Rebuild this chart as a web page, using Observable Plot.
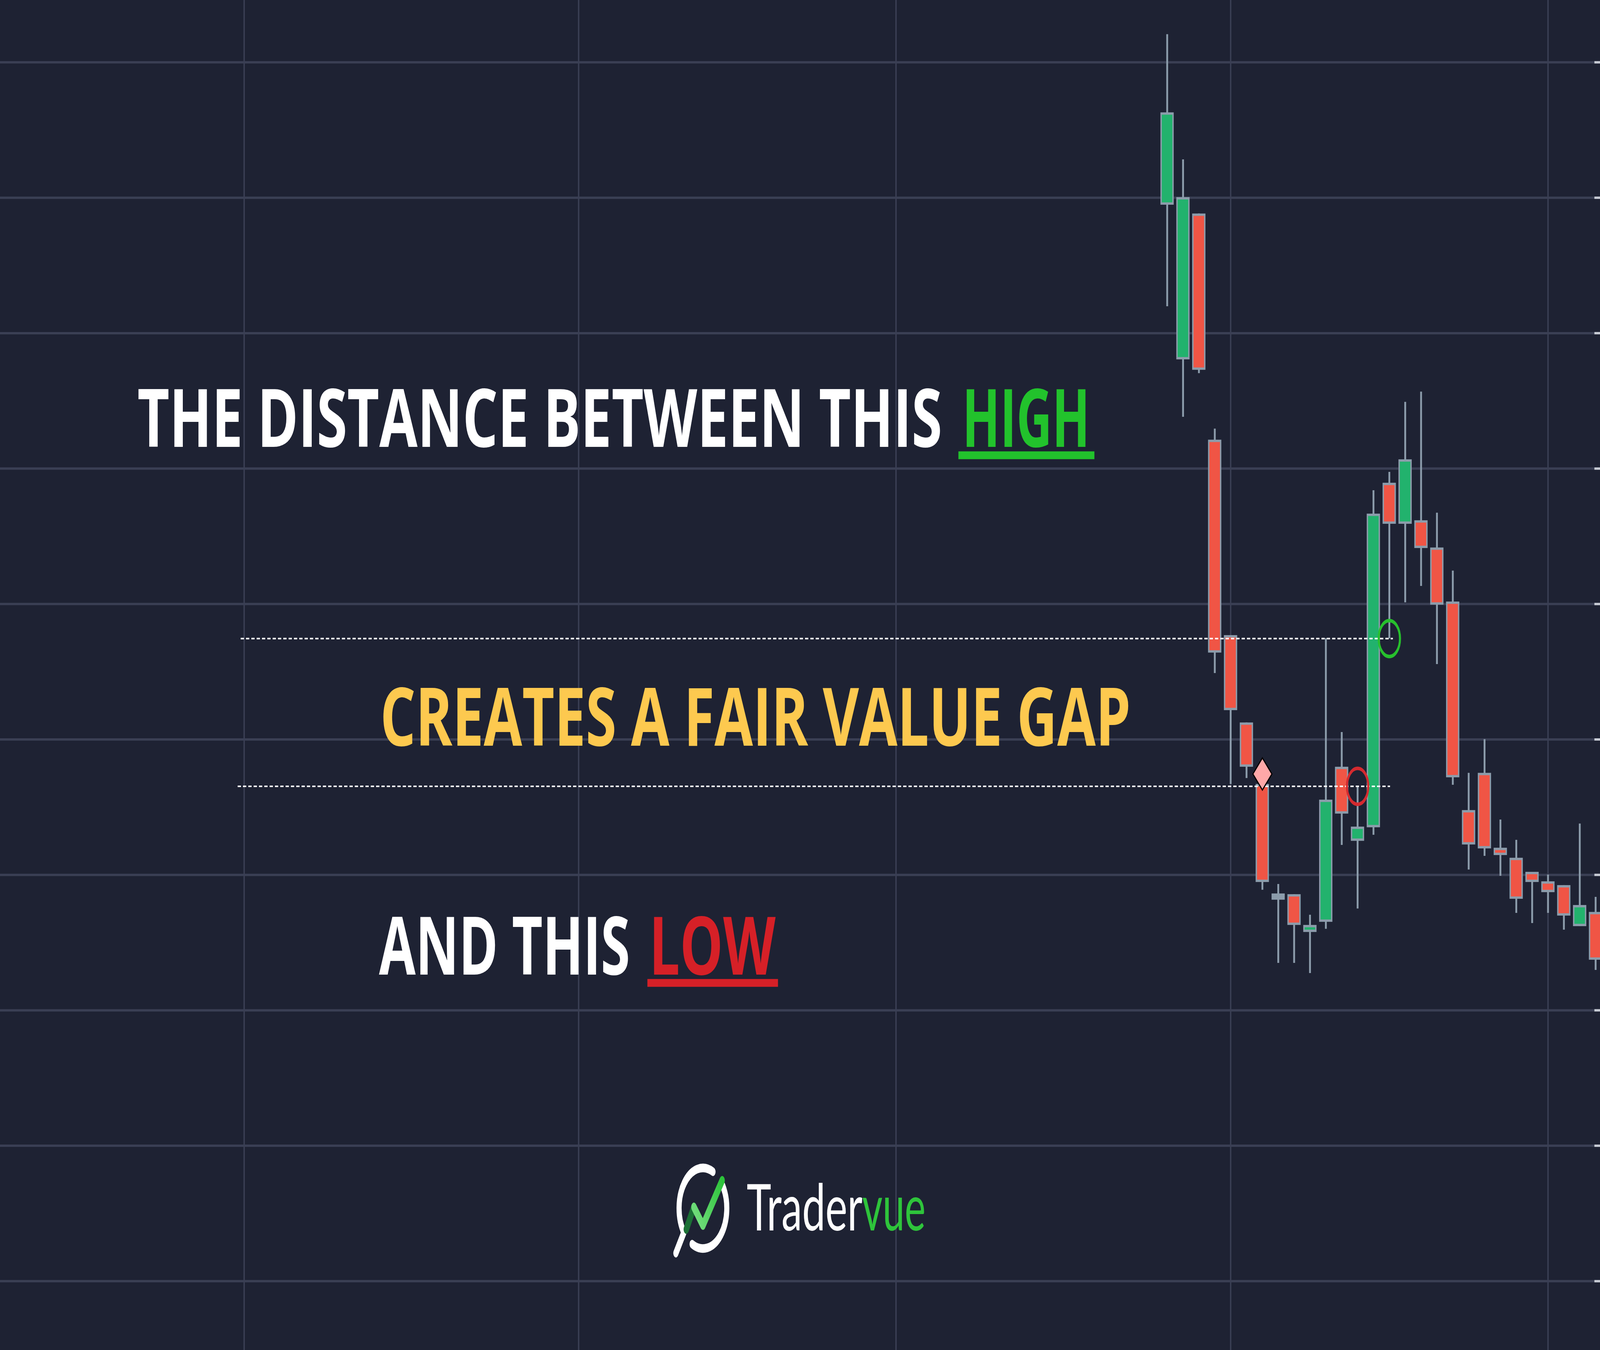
<!DOCTYPE html>
<html>
<head>
<meta charset="utf-8">
<script src="https://cdn.jsdelivr.net/npm/d3@7"></script>
<script src="https://cdn.jsdelivr.net/npm/@observablehq/plot@0.6"></script>
<style>
  html, body { margin: 0; padding: 0; background: #1e2233; width: 100%; height: 100%; overflow: hidden; }
  #chart svg { display: block; overflow: hidden; }
</style>
</head>
<body>
<div id="chart"></div>
<script>
// bar number and OHLC prices
const bar   = [56, 57, 58, 59, 60, 61, 62, 63, 64, 65, 66, 67, 68, 69, 70, 71, 72, 73, 74, 75, 76, 77, 78, 79, 80, 81, 82, 83]
const open  = [89.47, 78.05, 88.82, 72.12, 57.69, 51.24, 46.70, 38.40, 38.56, 35.77, 36.52, 47.97, 42.50, 43.50,
               68.94, 65.91, 66.17, 64.16, 60.17, 44.77, 47.52, 41.99, 41.25, 40.21, 39.51, 39.23, 36.20, 37.25]
const high  = [102.06, 92.82, 88.82, 72.94, 57.69, 51.24, 46.70, 39.31, 38.56, 37.04, 57.46, 50.53, 46.54, 68.39,
               69.74, 74.91, 75.67, 66.73, 62.45, 47.52, 50.01, 44.07, 42.57, 40.21, 40.01, 39.23, 43.78, 38.36]
const low   = [81.97, 73.81, 77.03, 54.89, 46.70, 47.14, 38.89, 33.49, 33.49, 32.74, 36.00, 42.20, 37.50, 42.95,
               57.45, 60.11, 61.32, 55.55, 46.64, 40.38, 41.39, 39.92, 37.18, 36.43, 37.18, 35.94, 36.20, 32.97]
const close = [96.29, 90.03, 77.28, 56.40, 52.15, 47.97, 39.46, 38.40, 36.29, 36.29, 45.54, 44.51, 43.55, 66.66,
               65.91, 70.67, 64.12, 59.94, 47.19, 42.23, 41.94, 41.45, 38.22, 39.46, 38.71, 36.98, 37.76, 33.72]

// grid ticks (time lines and price lines)
const xTicks = [-2.17, 18.91, 38.91, 60, 80]
const yTicks = [10, 20, 30, 40, 50, 60, 70, 80, 90, 100]

// the fair value gap: high of bar 68 and low of bar 70
const gapHighBar = 68
const gapLowBar = 70
const signalBar = 62
const signalPrice = 47.45

const headline = [
  {text: "THE DISTANCE BETWEEN THIS", x1: -8.90, x2: 41.82, y: 71.59, color: "#ffffff"},
  {text: "HIGH", x1: 43.09, x2: 51.13, y: 71.59, color: "#22c22c"},
  {text: "CREATES A FAIR VALUE GAP", x1: 6.40, x2: 53.70, y: 49.55, color: "#fdc94f"},
  {text: "AND THIS", x1: 6.33, x2: 22.15, y: 32.65, color: "#ffffff"},
  {text: "LOW", x1: 23.36, x2: 31.32, y: 32.65, color: "#d62027"}
]
const underlines = [
  {x1: 42.85, x2: 51.42, y: 70.98, color: "#22c22c"},
  {x1: 23.25, x2: 31.48, y: 32.02, color: "#d62027"}
]
const brand = [
  {text: "Trader", x1: 29.50, x2: 36.80, y: 13.73, color: "#ffffff"},
  {text: "vue", x1: 36.78, x2: 40.77, y: 13.73, color: "#2ec43b"}
]
const brandIcon = {x: 26.75, y: 15.37}

const bg = "#1e2233"
const gridColor = "#3a3f54"
const edge = "#8c9cab"
const up = "#22b26d"
const down = "#f05545"

const candles = bar.map((i, k) => ({i, open: open[k], high: high[k], low: low[k], close: close[k]}))
const bodies = candles.filter(d => d.open !== d.close)
const dojis = candles.filter(d => d.open === d.close)
const byBar = i => candles.find(d => d.i === i)

const gapTop = byBar(gapLowBar).low
const gapBottom = byBar(gapHighBar).high
const gapLines = [
  {y: gapTop, x1: -2.38, x2: gapLowBar + 0.23},
  {y: gapBottom, x1: -2.57, x2: gapLowBar + 0.05}
]

const chart = Plot.plot({
  width: 6912,
  height: 3456,
  marginTop: 0,
  marginRight: 0,
  marginBottom: 0,
  marginLeft: 0,
  style: {background: bg},
  x: {domain: [-17.549, 83.283], axis: null},
  y: {domain: [4.903, 104.586], axis: null},
  color: {type: "identity"},
  marks: [
    Plot.ruleX(xTicks, {stroke: gridColor, strokeWidth: 6}),
    Plot.ruleY(yTicks, {stroke: gridColor, strokeWidth: 6}),
    Plot.ruleY(yTicks, {x1: 82.93, x2: 83.283, stroke: "#c8ccd5", strokeWidth: 6}),
    // wicks
    Plot.ruleX(candles, {x: "i", y1: "low", y2: "high", stroke: edge, strokeWidth: 8}),
    // bodies
    Plot.rectY(bodies, {
      x1: d => d.i - 0.375,
      x2: d => d.i + 0.375,
      y1: "open",
      y2: "close",
      insetTop: 3,
      insetBottom: 3,
      fill: d => d.close > d.open ? up : down,
      stroke: edge,
      strokeWidth: 6
    }),
    Plot.ruleY(dojis, {y: "open", x1: d => d.i - 0.415, x2: d => d.i + 0.415, stroke: edge, strokeWidth: 16}),
    // gap lines
    Plot.ruleY(gapLines, {y: "y", x1: "x1", x2: "x2", stroke: "#ffffff", strokeWidth: 4, strokeDasharray: "14,9"}),
    Plot.dot([byBar(gapLowBar)], {x: "i", y: "low", r: 46, stroke: "#27c02d", strokeWidth: 9, fill: "none"}),
    Plot.dot([byBar(gapHighBar)], {x: "i", y: "high", r: 46, stroke: "#d42a2f", strokeWidth: 9, fill: "none"}),
    Plot.dot([{i: signalBar, y: signalPrice}], {x: "i", y: "y", symbol: "diamond2", r: 37, fill: "#ffa8a8", stroke: "#000000", strokeWidth: 4}),
    // text
    Plot.text(headline, {
      x: "x1", y: "y", text: "text", fill: "color",
      textAnchor: "start", lineAnchor: "bottom",
      fontFamily: "'Open Sans', sans-serif", fontWeight: 700, fontSize: 207
    }),
    Plot.ruleY(underlines, {y: "y", x1: "x1", x2: "x2", stroke: "color", strokeWidth: 20}),
    Plot.text(brand, {
      x: "x1", y: "y", text: "text", fill: "color",
      textAnchor: "start", lineAnchor: "bottom",
      fontFamily: "Lato, sans-serif", fontWeight: 400, fontSize: 164
    })
  ]
})

// stretch each piece of text to the width it has in the picture
const xs = chart.scale("x")
const ys = chart.scale("y")
const groups = chart.querySelectorAll('g[aria-label="text"]');
[headline, brand].forEach((rows, k) => {
  groups[k].querySelectorAll("text").forEach((node, j) => {
    const d = rows[j]
    node.setAttribute("textLength", xs.apply(d.x2) - xs.apply(d.x1))
    node.setAttribute("lengthAdjust", "spacingAndGlyphs")
  })
})

// Tradervue mark: ring with a handle and a rising check
const defs = d3.select(chart).append("defs")
const grad = defs.append("linearGradient").attr("id", "tv-check")
  .attr("gradientUnits", "userSpaceOnUse")
  .attr("x1", -39).attr("y1", 0).attr("x2", 83).attr("y2", -71)
grad.append("stop").attr("offset", 0).attr("stop-color", "#6ddb78")
grad.append("stop").attr("offset", 1).attr("stop-color", "#2cc33a")

const icon = d3.select(chart).append("g")
  .attr("transform", `translate(${xs.apply(brandIcon.x)},${ys.apply(brandIcon.y)})`)
  .attr("fill", "none")
  .attr("stroke-linecap", "round")
  .attr("stroke-linejoin", "round")
  .attr("stroke-width", 22)

icon.append("path").attr("stroke", "#ffffff")
  .attr("d", "M43.5,-93.4 A103,103 0 0 0 -82.3,62 L-117,115")
icon.append("path").attr("stroke", "#ffffff")
  .attr("d", "M85.4,-57.6 A103,103 0 0 1 -46.8,91.8")
icon.append("path").attr("stroke", "#1b7035").attr("stroke-width", 23)
  .attr("d", "M-72,54 L-39,-3")
icon.append("path").attr("stroke", "url(#tv-check)").attr("stroke-width", 23)
  .attr("d", "M-39,-3 L0,44 L83,-71")

// the window can be narrower than the 6912x3456 frame: fill it edge to edge
chart.setAttribute("viewBox", "0 0 6912 3456")
chart.setAttribute("preserveAspectRatio", "none")
chart.style.width = "100vw"
chart.style.height = "100vh"
chart.style.maxWidth = "none"

document.getElementById("chart").append(chart)
</script>
</body>
</html>
